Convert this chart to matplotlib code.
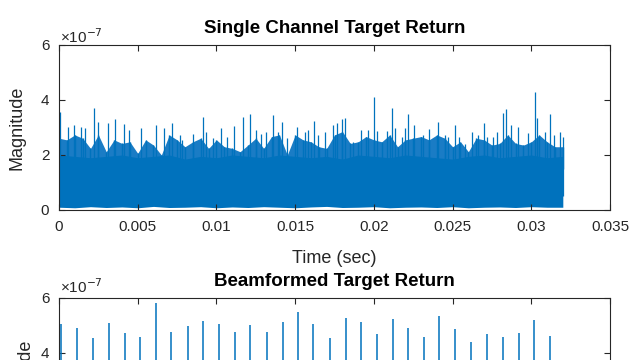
import numpy as np
import matplotlib.pyplot as plt

plt.rcParams['font.family'] = ['Liberation Sans', 'DejaVu Sans']

BLUE = '#0072BD'
LIGHT = '#1a7cc5'
DARK = '#262626'

# single channel: solid core of the noise (x1e-7), one value per 0.001 s
t_core = [0.000, 0.001, 0.002, 0.003, 0.004, 0.005, 0.006, 0.007, 0.008, 0.009,
          0.010, 0.011, 0.012, 0.013, 0.014, 0.015, 0.016, 0.017, 0.018, 0.019,
          0.020, 0.021, 0.022, 0.023, 0.024, 0.025, 0.026, 0.027, 0.028, 0.029,
          0.030, 0.031, 0.032]
core_top = [2.0, 1.95, 1.9, 1.95, 2.0, 1.9, 1.95, 2.0, 1.85, 1.95,
            1.9, 2.0, 1.95, 1.9, 2.0, 1.95, 1.9, 1.95, 1.85, 2.0,
            1.95, 1.9, 2.0, 1.95, 1.9, 1.85, 1.95, 2.0, 1.9, 1.95,
            2.0, 1.9, 1.95]
core_low = [0.10, 0.08, 0.12, 0.09, 0.11, 0.08, 0.13, 0.09, 0.10, 0.12,
            0.08, 0.11, 0.09, 0.12, 0.10, 0.08, 0.11, 0.13, 0.09, 0.10,
            0.12, 0.08, 0.10, 0.11, 0.09, 0.12, 0.08, 0.10, 0.11, 0.09,
            0.12, 0.10, 0.10]

# single channel: top of the dense ragged layer, one value per 0.0005 s
t_env = [0.0000, 0.0005, 0.0010, 0.0015, 0.0020, 0.0025, 0.0030, 0.0035, 0.0040, 0.0045,
         0.0050, 0.0055, 0.0060, 0.0065, 0.0070, 0.0075, 0.0080, 0.0085, 0.0090, 0.0095,
         0.0100, 0.0105, 0.0110, 0.0115, 0.0120, 0.0125, 0.0130, 0.0135, 0.0140, 0.0145,
         0.0150, 0.0155, 0.0160, 0.0165, 0.0170, 0.0175, 0.0180, 0.0185, 0.0190, 0.0195,
         0.0200, 0.0205, 0.0210, 0.0215, 0.0220, 0.0225, 0.0230, 0.0235, 0.0240, 0.0245,
         0.0250, 0.0255, 0.0260, 0.0265, 0.0270, 0.0275, 0.0280, 0.0285, 0.0290, 0.0295,
         0.0300, 0.0305, 0.0310, 0.0315, 0.0320]
env_top = [2.61, 2.55, 2.73, 2.61, 2.24, 2.73, 2.12, 2.55, 2.42, 2.48,
           2.06, 2.55, 2.36, 2.00, 2.73, 2.55, 2.30, 2.48, 2.61, 2.24,
           2.55, 2.30, 2.24, 2.12, 2.36, 2.61, 2.24, 2.67, 2.73, 2.00,
           2.73, 2.55, 2.48, 2.30, 2.24, 2.73, 2.85, 2.42, 2.48, 2.67,
           2.55, 2.48, 2.73, 2.30, 2.55, 2.61, 2.67, 2.55, 2.73, 2.61,
           2.30, 2.48, 2.12, 2.61, 2.55, 2.36, 2.42, 2.73, 2.42, 2.36,
           2.48, 2.73, 2.48, 2.30, 2.30]

# single channel: spikes above the ragged layer (time in s, peak x1e-7)
t_spk = [0.00006, 0.00059, 0.00097, 0.00140, 0.00165, 0.00224, 0.00246, 0.00313,
         0.00356, 0.00415, 0.00445, 0.00521, 0.00614, 0.00667, 0.00716, 0.00769,
         0.00780, 0.00849, 0.00917, 0.00934, 0.00980, 0.01027, 0.01065, 0.01112,
         0.01171, 0.01213, 0.01252, 0.01281, 0.01315, 0.01361, 0.01393, 0.01415,
         0.01447, 0.01510, 0.01563, 0.01584, 0.01622, 0.01647, 0.01690, 0.01743,
         0.01764, 0.01796, 0.01817, 0.01870, 0.01919, 0.01965, 0.01999, 0.02018,
         0.02082, 0.02117, 0.02135, 0.02177, 0.02198, 0.02215, 0.02257, 0.02314,
         0.02351, 0.02410, 0.02452, 0.02473, 0.02516, 0.02543, 0.02579, 0.02622,
         0.02664, 0.02700, 0.02721, 0.02759, 0.02781, 0.02823, 0.02840, 0.02870,
         0.02918, 0.02982, 0.03024, 0.03039, 0.03088, 0.03119, 0.03145, 0.03183,
         0.03204]
spk_top = [3.55, 3.00, 3.09, 3.03, 2.97, 3.72, 3.21, 3.15,
           3.31, 3.12, 2.91, 2.97, 3.09, 2.97, 3.15, 2.73,
           2.55, 2.75, 3.39, 2.85, 2.63, 2.97, 2.67, 3.07,
           3.39, 3.48, 2.91, 2.75, 2.85, 3.45, 2.85, 3.21,
           2.63, 3.03, 2.85, 2.91, 3.24, 2.73, 2.82, 3.09,
           3.15, 3.31, 3.33, 2.48, 2.91, 2.91, 4.12, 2.87,
           2.87, 3.70, 2.97, 2.67, 2.97, 3.48, 3.09, 2.73,
           2.95, 3.19, 2.73, 2.67, 3.09, 2.67, 2.39, 2.82,
           2.73, 3.15, 2.67, 2.67, 2.85, 3.52, 3.67, 3.09,
           3.03, 2.79, 4.28, 3.33, 2.85, 3.48, 2.73, 2.85,
           2.67]

# beamformed: pulse times (s) and peaks (x1e-7)
t_pulse = [0.00013, 0.00112, 0.00216, 0.00316, 0.00419, 0.00515, 0.00614, 0.00713,
           0.00820, 0.00915, 0.01016, 0.01118, 0.01213, 0.01320, 0.01421, 0.01517,
           0.01616, 0.01720, 0.01821, 0.01917, 0.02022, 0.02120, 0.02217, 0.02321,
           0.02416, 0.02518, 0.02619, 0.02719, 0.02821, 0.02922, 0.03018, 0.03117]
pulse_top = [5.05, 4.90, 4.53, 5.08, 4.74, 4.57, 5.81, 4.78,
             4.97, 5.16, 5.05, 4.78, 5.00, 4.78, 5.13, 5.48,
             5.05, 4.53, 5.27, 5.13, 4.70, 5.22, 4.91, 4.57,
             5.33, 4.87, 4.39, 4.70, 4.58, 4.74, 5.20, 4.60]

xticks = [0, 0.005, 0.01, 0.015, 0.02, 0.025, 0.03, 0.035]
xticklabels = ['0', '0.005', '0.01', '0.015', '0.02', '0.025', '0.03', '0.035']
yticks = [0, 2, 4, 6]


def style(ax, title, off_y, title_y):
    ax.set_xlim(0, 0.035)
    ax.set_ylim(0, 6)
    ax.set_xticks(xticks)
    ax.set_xticklabels(xticklabels)
    ax.set_yticks(yticks)
    ax.tick_params(direction='in', top=True, right=True, length=4, width=0.8,
                   colors=DARK, labelsize=11, pad=7)
    for s in ax.spines.values():
        s.set_color(DARK)
        s.set_linewidth(0.8)
    ax.text(0.5, title_y, title, transform=ax.transAxes, fontsize=13.5,
            fontweight='bold', color='black', ha='center', va='center')
    ax.text(0.002, off_y, '×10$^{-7}$', transform=ax.transAxes, fontsize=11,
            color=DARK, va='center', ha='left')


fig = plt.figure(figsize=(6.4, 3.6), dpi=100)
ax1 = fig.add_axes([0.0922, 0.4167, 0.861, 0.4583])
ax2 = fig.add_axes([0.0922, -0.286, 0.861, 0.4583])

ax1.fill_between(t_env, 1.5, env_top, color=LIGHT, lw=0)
ax1.fill_between(t_core, core_low, core_top, color=BLUE, lw=0)
ax1.vlines(t_env, 1.5, env_top, color=BLUE, lw=1.0)
ax1.vlines(t_spk, 0.5, spk_top, color=BLUE, lw=0.9)
style(ax1, 'Single Channel Target Return', 1.048, 1.103)
ax1.set_ylabel('Magnitude', fontsize=13, color=DARK)
ax1.yaxis.set_label_coords(-0.061, 0.5)
ax1.set_xlabel('Time (sec)', fontsize=13, color=DARK)
ax1.xaxis.set_label_coords(0.5, -0.245)

ax2.vlines(t_pulse, 0, pulse_top, color=BLUE, lw=1.1)
style(ax2, 'Beamformed Target Return', 1.067, 1.097)
# lower half of this panel lies below the visible frame
ax2.tick_params(labelbottom=False)
ax2.set_yticklabels(['', '', '4', '6'])
ax2.text(-0.061, 0.5, 'Magnitude', transform=ax2.transAxes, fontsize=13,
         color=DARK, rotation=90, ha='center', va='center')

fig.savefig('out.png', dpi=100)
